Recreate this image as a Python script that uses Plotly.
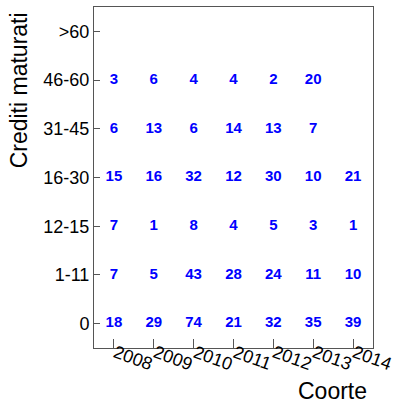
import plotly.graph_objects as go

coorti = ["2008", "2009", "2010", "2011", "2012", "2013", "2014"]
crediti = ["0", "1-11", "12-15", "16-30", "31-45", "46-60", ">60"]

# conteggi per fascia di crediti (righe) e coorte (colonne); None = cella vuota
conteggi = {
    "0": [18, 29, 74, 21, 32, 35, 39],
    "1-11": [7, 5, 43, 28, 24, 11, 10],
    "12-15": [7, 1, 8, 4, 5, 3, 1],
    "16-30": [15, 16, 32, 12, 30, 10, 21],
    "31-45": [6, 13, 6, 14, 13, 7, None],
    "46-60": [3, 6, 4, 4, 2, 20, None],
    ">60": [None] * 7,
}

FONT = "Liberation Sans, Arial, Helvetica, sans-serif"

xs, ys, labels = [], [], []
for fascia in crediti:
    for anno, n in zip(coorti, conteggi[fascia]):
        if n is None:
            continue
        xs.append(anno)
        ys.append(fascia)
        labels.append(f"<b>{n}</b>")

fig = go.Figure()
fig.add_trace(go.Scatter(
    x=xs,
    y=ys,
    mode="text",
    text=labels,
    textposition="middle center",
    textfont=dict(family=FONT, size=15, color="#0000ff"),
    hoverinfo="skip",
    showlegend=False,
))

axis_common = dict(
    type="category",
    range=[-0.5, 6.5],
    automargin=False,
    showline=True,
    linecolor="#555555",
    linewidth=1,
    mirror=True,
    showgrid=False,
    zeroline=False,
    ticks="inside",
    tickcolor="#555555",
    tickfont=dict(family=FONT, size=18, color="#000000"),
)

fig.update_xaxes(
    categoryorder="array",
    categoryarray=coorti,
    ticklen=9,
    showticklabels=False,
    **axis_common,
)
fig.update_yaxes(
    categoryorder="array",
    categoryarray=crediti,
    ticklen=6,
    **axis_common,
)

# etichette delle coorti inclinate, come nell'originale
for i, anno in enumerate(coorti):
    fig.add_annotation(
        text=anno, x=i, xref="x", y=0, yref="paper",
        xanchor="center", yanchor="middle",
        xshift=19, yshift=-10, textangle=20, showarrow=False,
        font=dict(family=FONT, size=18, color="#000000"),
    )

fig.add_annotation(
    text="Crediti maturati", xref="paper", yref="paper",
    x=-0.269, y=0.99, xanchor="center", yanchor="top",
    textangle=-90, showarrow=False,
    font=dict(family=FONT, size=23, color="#000000"),
)
fig.add_annotation(
    text="Coorte", xref="paper", yref="paper",
    x=0.985, y=-0.1613, xanchor="right", yanchor="bottom",
    yshift=-3, showarrow=False,
    font=dict(family=FONT, size=23, color="#000000"),
)

fig.update_layout(
    width=394,
    height=403,
    margin=dict(l=94, r=21, t=7, b=55),
    plot_bgcolor="white",
    paper_bgcolor="white",
)

fig.write_html(
    "out.html",
    config={"displayModeBar": False},
    post_script="document.body.style.margin='0';",
)
